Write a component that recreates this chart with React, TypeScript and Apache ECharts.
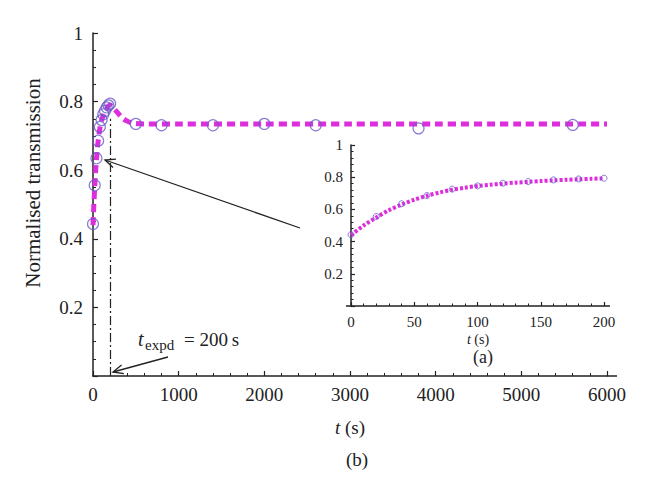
import React, { useEffect, useRef } from "react";
import * as echarts from "echarts";

// Main panel (b): measured points
const mainT = [0, 20, 40, 60, 80, 100, 120, 140, 160, 180, 200, 500, 800, 1400, 2000, 2600, 3800, 5600];
const mainY = [0.443, 0.556, 0.635, 0.686, 0.726, 0.746, 0.763, 0.773, 0.783, 0.789, 0.794, 0.735, 0.731, 0.731, 0.735, 0.731, 0.722, 0.732];
// Main panel (b): fitted curve
const fitT = [0, 10, 20, 30, 40, 50, 60, 80, 100, 120, 140, 160, 180, 200, 250, 300, 350, 400, 450, 500, 600, 1000, 2000, 3000, 4000, 5000, 6000];
const fitY = [0.44, 0.5, 0.55, 0.595, 0.63, 0.66, 0.685, 0.722, 0.745, 0.76, 0.771, 0.78, 0.787, 0.79, 0.778, 0.764, 0.751, 0.743, 0.738, 0.736, 0.735, 0.735, 0.735, 0.735, 0.735, 0.735, 0.735];
// Inset (a): measured points
const insetT = [0, 20, 40, 60, 80, 100, 120, 140, 160, 180, 200];
const insetY = [0.443, 0.556, 0.635, 0.686, 0.726, 0.746, 0.763, 0.773, 0.783, 0.789, 0.794];
// Inset (a): fitted curve
const insetFitT = [0, 10, 20, 30, 40, 50, 60, 70, 80, 90, 100, 110, 120, 130, 140, 150, 160, 170, 180, 190, 200];
const insetFitY = [0.44, 0.5, 0.55, 0.595, 0.63, 0.66, 0.685, 0.705, 0.722, 0.735, 0.745, 0.753, 0.76, 0.766, 0.771, 0.776, 0.78, 0.784, 0.787, 0.79, 0.793];
// t_expd marker
const tExpd = 200;

const SERIF = "Liberation Serif";
const INK = "#222";
const MAGENTA = "#dd2ddd";
const CIRCLE = "#6a5cc8";

function zip(a: number[], b: number[]) {
  return a.map((v, i) => [v, b[i]]);
}

function fmt(v: number) {
  if (Math.abs(v) < 1e-9) return "0";
  return String(+v.toFixed(2));
}

function arrowHead(hx: number, hy: number, tx: number, ty: number, len = 11, ang = 0.42) {
  const dx = tx - hx;
  const dy = ty - hy;
  const d = Math.hypot(dx, dy);
  const ux = dx / d;
  const uy = dy / d;
  const rot = (a: number) => [
    hx + len * (ux * Math.cos(a) - uy * Math.sin(a)),
    hy + len * (ux * Math.sin(a) + uy * Math.cos(a)),
  ];
  return {
    type: "polyline",
    shape: { points: [rot(ang), [hx, hy], rot(-ang)] },
    style: { stroke: INK, lineWidth: 1.3, fill: "none" },
    z: 20,
  };
}

export default function App() {
  const ref = useRef<HTMLDivElement>(null);
  useEffect(() => {
    if (!ref.current) return;
    const chart = echarts.init(ref.current, null, { renderer: "svg" });
    const axisCommon = {
      axisLine: { show: true, onZero: false, lineStyle: { color: INK, width: 1.5 } },
      axisTick: { show: true, inside: true, length: 5, lineStyle: { color: INK, width: 1.2 } },
      minorTick: { show: true, length: 3, lineStyle: { color: INK, width: 1 } },
      splitLine: { show: false },
      minorSplitLine: { show: false },
    };
    const bigArrow = { tx: 300, ty: 228, hx: 105, hy: 160 };
    const smallArrow = { tx: 168, ty: 357, hx: 113, hy: 372 };
    const yFmt = (v: number) => (v === 0 ? "" : fmt(v));
    chart.setOption({
      animation: false,
      backgroundColor: "#fff",
      textStyle: { fontFamily: SERIF },
      grid: [
        { left: 93, top: 33, right: 43, bottom: 117 },
        { left: 351, top: 145, width: 253, height: 161 },
      ],
      xAxis: [
        {
          type: "value", gridIndex: 0, min: 0, max: 6000, interval: 1000,
          ...axisCommon,
          minorTick: { ...axisCommon.minorTick, splitNumber: 5 },
          axisLabel: { fontFamily: SERIF, fontSize: 19, color: INK, margin: 9, formatter: fmt },
        },
        {
          type: "value", gridIndex: 1, min: 0, max: 200, interval: 50,
          ...axisCommon,
          axisTick: { ...axisCommon.axisTick, length: 4 },
          minorTick: { ...axisCommon.minorTick, splitNumber: 5, length: 2.5 },
          axisLabel: { fontFamily: SERIF, fontSize: 15, color: INK, margin: 8, formatter: fmt },
        },
      ],
      yAxis: [
        {
          type: "value", gridIndex: 0, min: 0, max: 1, interval: 0.2,
          ...axisCommon,
          minorTick: { ...axisCommon.minorTick, splitNumber: 4 },
          axisLabel: { fontFamily: SERIF, fontSize: 19, color: INK, margin: 10, formatter: yFmt },
        },
        {
          type: "value", gridIndex: 1, min: 0, max: 1, interval: 0.2,
          ...axisCommon,
          axisTick: { ...axisCommon.axisTick, length: 4 },
          minorTick: { ...axisCommon.minorTick, splitNumber: 5, length: 2.5 },
          axisLabel: { fontFamily: SERIF, fontSize: 15, color: INK, margin: 8, formatter: yFmt },
        },
      ],
      series: [
        {
          type: "line", xAxisIndex: 0, yAxisIndex: 0, data: zip(fitT, fitY),
          symbol: "none", smooth: 0.3,
          lineStyle: { color: MAGENTA, width: 5, type: [8, 5], cap: "butt" },
          z: 2,
          markLine: {
            silent: true, symbol: "none", label: { show: false },
            lineStyle: { color: INK, width: 1.2, type: [9, 3, 2, 3] },
            data: [[{ coord: [tExpd, 0] }, { coord: [tExpd, 0.75] }]],
          },
        },
        {
          type: "scatter", xAxisIndex: 0, yAxisIndex: 0, data: zip(mainT, mainY),
          symbol: "circle", symbolSize: 11,
          itemStyle: { color: "rgba(0,0,0,0)", borderColor: CIRCLE, borderWidth: 1.2 },
          z: 3,
        },
        {
          type: "line", xAxisIndex: 1, yAxisIndex: 1, data: zip(insetFitT, insetFitY),
          symbol: "none", smooth: 0.3,
          lineStyle: { color: MAGENTA, width: 4, type: [3, 2], cap: "butt" },
          z: 2,
        },
        {
          type: "scatter", xAxisIndex: 1, yAxisIndex: 1, data: zip(insetT, insetY),
          symbol: "circle", symbolSize: 6,
          itemStyle: { color: "rgba(0,0,0,0)", borderColor: CIRCLE, borderWidth: 1 },
          z: 3,
        },
      ],
      graphic: [
        // axis line extensions
        { type: "line", shape: { x1: 607, y1: 376, x2: 617, y2: 376 }, style: { stroke: INK, lineWidth: 1.5 } },
        { type: "line", shape: { x1: 346, y1: 306, x2: 351, y2: 306 }, style: { stroke: INK, lineWidth: 1.5 } },
        { type: "line", shape: { x1: 604, y1: 306, x2: 610, y2: 306 }, style: { stroke: INK, lineWidth: 1.5 } },
        // y axis title
        {
          type: "text", x: 33, y: 183, rotation: Math.PI / 2,
          style: { text: "Normalised transmission", font: `21px ${SERIF}`, fill: INK, align: "center", verticalAlign: "middle" },
        },
        // main x title
        {
          type: "text", x: 350, y: 427,
          style: {
            text: "{i|t} (s)", font: `19px ${SERIF}`, fill: INK, align: "center", verticalAlign: "middle",
            rich: { i: { fontStyle: "italic", fontFamily: SERIF, fontSize: 19, fill: INK } },
          },
        },
        {
          type: "text", x: 357, y: 459,
          style: { text: "(b)", font: `19px ${SERIF}`, fill: INK, align: "center", verticalAlign: "middle" },
        },
        // inset labels
        {
          type: "text", x: 478, y: 339,
          style: {
            text: "{i|t} (s)", font: `14px ${SERIF}`, fill: INK, align: "center", verticalAlign: "middle",
            rich: { i: { fontStyle: "italic", fontFamily: SERIF, fontSize: 14, fill: INK } },
          },
        },
        {
          type: "text", x: 483, y: 357,
          style: { text: "(a)", font: `18px ${SERIF}`, fill: INK, align: "center", verticalAlign: "middle" },
        },
        // t_expd annotation
        {
          type: "text", x: 138, y: 339,
          style: { text: "t", font: `italic 20px ${SERIF}`, fill: INK, align: "left", verticalAlign: "middle" },
        },
        {
          type: "text", x: 145, y: 345,
          style: { text: "expd", font: `15px ${SERIF}`, fill: INK, align: "left", verticalAlign: "middle" },
        },
        {
          type: "text", x: 184, y: 339,
          style: { text: "= 200\u2009s", font: `19px ${SERIF}`, fill: INK, align: "left", verticalAlign: "middle" },
        },
        // arrows
        {
          type: "line", shape: { x1: bigArrow.tx, y1: bigArrow.ty, x2: bigArrow.hx, y2: bigArrow.hy },
          style: { stroke: INK, lineWidth: 1.3 }, z: 20,
        },
        arrowHead(bigArrow.hx, bigArrow.hy, bigArrow.tx, bigArrow.ty),
        {
          type: "line", shape: { x1: smallArrow.tx, y1: smallArrow.ty, x2: smallArrow.hx, y2: smallArrow.hy },
          style: { stroke: INK, lineWidth: 1.3 }, z: 20,
        },
        arrowHead(smallArrow.hx, smallArrow.hy, smallArrow.tx, smallArrow.ty),
      ],
    });
    return () => chart.dispose();
  }, []);
  return (
    <div
      ref={ref}
      style={{ position: "fixed", left: 0, top: 0, width: 650, height: 493, background: "#fff" }}
    />
  );
}
